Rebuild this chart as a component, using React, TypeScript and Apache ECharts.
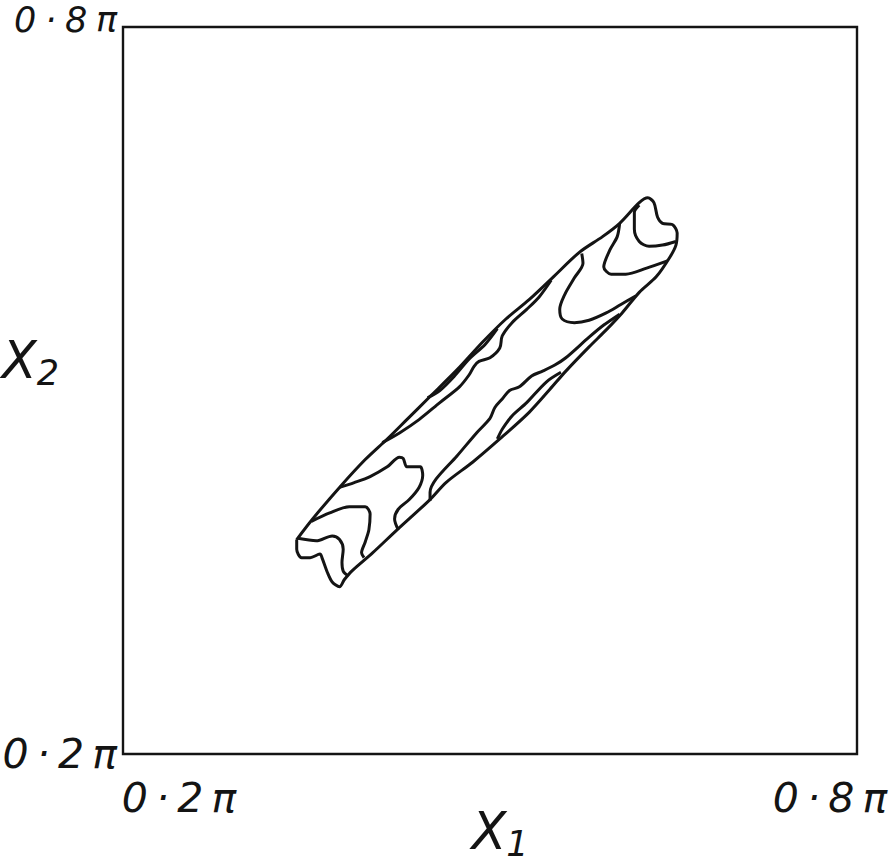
import { useEffect, useRef } from 'react';
import * as echarts from 'echarts';

// Both axes run from 0.2π to 0.8π; every coordinate below is in multiples of π.
const AXIS_MIN = 0.2;
const AXIS_MAX = 0.8;
const xTickLabels = ['0·2π', '0·8π'];
const yTickLabels = ['0·2π', '0·8π'];
const xAxisName = ['X', '1'];
const yAxisName = ['X', '2'];

// Outermost closed contour (the elongated band along the diagonal)
const outerContour: number[][] = [
  [0.342, 0.377], [0.355, 0.394], [0.377, 0.420], [0.398, 0.443], [0.416, 0.460],
  [0.432, 0.476], [0.451, 0.495], [0.473, 0.517], [0.494, 0.540], [0.513, 0.559],
  [0.532, 0.575], [0.551, 0.593], [0.573, 0.614], [0.592, 0.627], [0.606, 0.638],
  [0.622, 0.655], [0.629, 0.659], [0.634, 0.655], [0.637, 0.643], [0.641, 0.638],
  [0.649, 0.637], [0.653, 0.630], [0.652, 0.620], [0.647, 0.610], [0.636, 0.594],
  [0.622, 0.581], [0.608, 0.564], [0.595, 0.550], [0.581, 0.536], [0.562, 0.516],
  [0.549, 0.501], [0.532, 0.482], [0.508, 0.460], [0.486, 0.441], [0.464, 0.424],
  [0.451, 0.410], [0.424, 0.385], [0.404, 0.366], [0.387, 0.351], [0.381, 0.344],
  [0.377, 0.338], [0.371, 0.342], [0.367, 0.350], [0.363, 0.361], [0.361, 0.365],
  [0.353, 0.362], [0.346, 0.362], [0.342, 0.369], [0.342, 0.377],
];

// Inner level lines, each running from one side of the band to the other
const lowerTipContour: number[][] = [
  [0.343, 0.378], [0.358, 0.376], [0.371, 0.380], [0.377, 0.377], [0.380, 0.369],
  [0.379, 0.358], [0.380, 0.351], [0.384, 0.347],
];
const lowerLobeContour: number[][] = [
  [0.354, 0.392], [0.369, 0.399], [0.385, 0.404], [0.398, 0.404], [0.402, 0.398],
  [0.401, 0.385], [0.398, 0.375], [0.395, 0.366], [0.397, 0.362],
];
const lowerBendContour: number[][] = [
  [0.377, 0.420], [0.389, 0.424], [0.402, 0.429], [0.416, 0.437], [0.426, 0.445],
  [0.429, 0.444], [0.432, 0.437], [0.437, 0.437], [0.443, 0.437], [0.445, 0.430],
  [0.442, 0.420], [0.434, 0.410], [0.425, 0.402], [0.422, 0.394], [0.425, 0.385],
];
const upperRidgeContour: number[][] = [
  [0.412, 0.457], [0.426, 0.465], [0.442, 0.476], [0.459, 0.490], [0.475, 0.503],
  [0.483, 0.513], [0.487, 0.520], [0.491, 0.524], [0.500, 0.527], [0.508, 0.535],
  [0.510, 0.545], [0.518, 0.556], [0.530, 0.567], [0.540, 0.577], [0.550, 0.591],
];
const lowerRidgeContour: number[][] = [
  [0.451, 0.409], [0.451, 0.416], [0.456, 0.427], [0.473, 0.446], [0.489, 0.465],
  [0.500, 0.477], [0.504, 0.486], [0.510, 0.493], [0.516, 0.500], [0.524, 0.503],
  [0.534, 0.512], [0.543, 0.516], [0.553, 0.521], [0.562, 0.527], [0.581, 0.544],
  [0.593, 0.554], [0.606, 0.563],
];
const upperSliverContour: number[][] = [
  [0.449, 0.494], [0.459, 0.500], [0.471, 0.512], [0.483, 0.526], [0.496, 0.538],
  [0.506, 0.551],
];
const lowerSliverContour: number[][] = [
  [0.506, 0.460], [0.510, 0.468], [0.518, 0.479], [0.530, 0.490], [0.546, 0.507],
  [0.558, 0.515],
];
const upperBendContour: number[][] = [
  [0.575, 0.613], [0.576, 0.605], [0.569, 0.593], [0.561, 0.579], [0.557, 0.567],
  [0.559, 0.559], [0.569, 0.556], [0.581, 0.558], [0.595, 0.564], [0.607, 0.571],
  [0.619, 0.578],
];
const upperLobeContour: number[][] = [
  [0.606, 0.638], [0.604, 0.627], [0.598, 0.616], [0.593, 0.602], [0.599, 0.596],
  [0.611, 0.596], [0.628, 0.601], [0.645, 0.607],
];
const upperTipContour: number[][] = [
  [0.622, 0.653], [0.618, 0.647], [0.618, 0.633], [0.622, 0.623], [0.630, 0.619],
  [0.641, 0.620], [0.652, 0.623],
];

const contours = [
  outerContour, lowerTipContour, lowerLobeContour, lowerBendContour,
  upperRidgeContour, lowerRidgeContour, upperSliverContour, lowerSliverContour,
  upperBendContour, upperLobeContour, upperTipContour,
];

const FONT = '"DejaVu Sans", sans-serif';
const INK = '#141414';

// widen the lettering a little, like stencilled labels
const spaced = (s: string, gap = '\u2009') => s.split('').join(gap);
const near = (a: number, b: number) => Math.abs(a - b) < 1e-6;

export default function App() {
  const ref = useRef<HTMLDivElement>(null);

  useEffect(() => {
    if (!ref.current) return;
    const chart = echarts.init(ref.current, undefined, { renderer: 'svg' });

    const labelFont = { fontFamily: FONT, fontStyle: 'italic' as const, fontSize: 41, color: INK };
    const nameRich = {
      m: { fontFamily: FONT, fontStyle: 'italic', fontSize: 51, lineHeight: 51, color: INK },
      s: { fontFamily: FONT, fontStyle: 'italic', fontSize: 35, lineHeight: 34, color: INK, padding: [24, 0, 0, 0] },
    };

    chart.setOption({
      animation: false,
      backgroundColor: '#ffffff',
      grid: {
        left: 123, top: 27, width: 734, height: 727,
        containLabel: false, outerBoundsMode: 'none',
        show: true, borderColor: INK, borderWidth: 2.4, backgroundColor: 'transparent',
      },
      xAxis: {
        type: 'value', min: AXIS_MIN, max: AXIS_MAX,
        axisLine: { show: false }, axisTick: { show: false }, splitLine: { show: false },
        axisLabel: {
          showMinLabel: true, showMaxLabel: true, margin: 23,
          formatter: (v: number) =>
            near(v, AXIS_MIN) ? `{lo|${spaced(xTickLabels[0])}}`
              : near(v, AXIS_MAX) ? `{hi|${spaced(xTickLabels[1])}}` : '',
          rich: {
            lo: { ...labelFont, padding: [0, 0, 0, 112] },
            hi: { ...labelFont, padding: [0, 54, 0, 0] },
          },
        },
        name: `{m|${xAxisName[0]}}{s|${xAxisName[1]}}`,
        nameLocation: 'middle', nameGap: 52,
        nameMoveOverlap: false,
        nameTextStyle: { padding: [0, 0, 0, 20], rich: nameRich },
      },
      yAxis: {
        type: 'value', min: AXIS_MIN, max: AXIS_MAX,
        axisLine: { show: false }, axisTick: { show: false }, splitLine: { show: false },
        axisLabel: {
          showMinLabel: true, showMaxLabel: true, margin: 6,
          formatter: (v: number) =>
            near(v, AXIS_MIN) ? `{lo|${spaced(yTickLabels[0])}}`
              : near(v, AXIS_MAX) ? `{hi|${spaced(yTickLabels[1], '\u2005')}}` : '',
          rich: {
            lo: { ...labelFont },
            hi: { ...labelFont, fontSize: 35, lineHeight: 34, padding: [0, 0, 14, 0] },
          },
        },
        name: `{m|${yAxisName[0]}}{s|${yAxisName[1]}}`,
        nameLocation: 'middle', nameRotate: 0, nameGap: 64,
        nameMoveOverlap: false,
        nameTextStyle: { padding: [0, 0, 60, 0], rich: nameRich },
      },
      series: contours.map((pts) => ({
        type: 'line',
        data: pts,
        showSymbol: false,
        symbol: 'none',
        smooth: 0.3,
        silent: true,
        lineStyle: { color: INK, width: 3 },
      })),
    });

    return () => chart.dispose();
  }, []);

  return (
    <div
      ref={ref}
      style={{ position: 'fixed', left: 0, top: 0, width: 895, height: 865, background: '#fff' }}
    />
  );
}
